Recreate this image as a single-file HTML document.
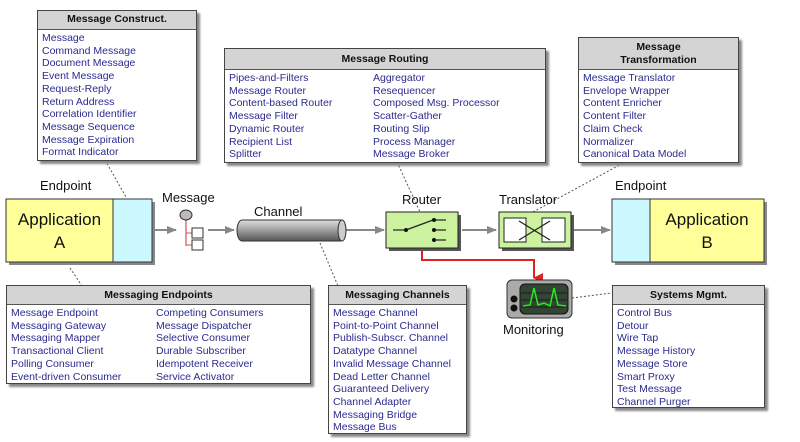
<!DOCTYPE html>
<html><head><meta charset="utf-8"><style>
body{margin:0;width:800px;height:442px;background:#fff;position:relative;overflow:hidden;font-family:"Liberation Sans",Arial,sans-serif}
.box{position:absolute;background:#fff;border:1px solid #444;box-shadow:3px 3px 2px #888}
.hd{background:#d4d4d4;border-bottom:1px solid #555;font-weight:bold;font-size:10.5px;text-align:center;color:#111;line-height:13px}
.it{color:#2b2b8f;font-size:10.5px;line-height:12.7px;padding:2px 0 0 4px;white-space:nowrap}
.col{position:absolute;top:0}
.lbl{position:absolute;font-size:13px;color:#111}
</style></head><body>
<svg width="800" height="442" style="position:absolute;left:0;top:0">
<defs>
<linearGradient id="cyl" x1="0" y1="0" x2="0" y2="1"><stop offset="0" stop-color="#ddd"/><stop offset=".4" stop-color="#aaa"/><stop offset="1" stop-color="#555"/></linearGradient>
<marker id="ag" markerWidth="10" markerHeight="8" refX="9" refY="4" orient="auto" markerUnits="userSpaceOnUse"><path d="M0,0L10,4L0,8z" fill="#888"/></marker>
<marker id="ar" markerWidth="10" markerHeight="10" refX="5" refY="9" orient="auto" markerUnits="userSpaceOnUse"><path d="M0,0L10,0L5,10z" fill="#d22"/></marker>
</defs>
<g stroke="#555" stroke-dasharray="2,2" fill="none" stroke-width="1">
<line x1="105" y1="160" x2="126" y2="197"/>
<line x1="70" y1="268" x2="82" y2="286"/>
<line x1="320" y1="243" x2="338" y2="286"/>
<line x1="397" y1="162" x2="420" y2="212"/>
<line x1="533" y1="212" x2="625" y2="162"/>
<line x1="572" y1="298" x2="612" y2="293"/>
</g>
<g stroke="#888" stroke-width="2" fill="none">
<line x1="155" y1="230" x2="176" y2="230" marker-end="url(#ag)"/>
<line x1="208" y1="230" x2="234" y2="230" marker-end="url(#ag)"/>
<line x1="345" y1="230" x2="384" y2="230" marker-end="url(#ag)"/>
<line x1="462" y1="230" x2="496" y2="230" marker-end="url(#ag)"/>
<line x1="574" y1="230" x2="610" y2="230" marker-end="url(#ag)"/>
</g>
<path d="M422,249V260H534V278" stroke="#d22" stroke-width="2" fill="none" marker-end="url(#ar)"/>
<!-- App A -->
<rect x="9" y="202" width="146" height="63" fill="#888"/>
<rect x="6" y="199" width="146" height="63" fill="#ffff99" stroke="#333"/>
<rect x="113" y="199" width="39" height="63" fill="#ccf8ff" stroke="#333"/>
<!-- App B -->
<rect x="615" y="202" width="152" height="63" fill="#888"/>
<rect x="612" y="199" width="152" height="63" fill="#ffff99" stroke="#333"/>
<rect x="612" y="199" width="38" height="63" fill="#ccf8ff" stroke="#333"/>
<!-- message -->
<line x1="186" y1="220" x2="186" y2="246" stroke="#c55" stroke-width="1.2"/>
<line x1="186" y1="233" x2="192" y2="233" stroke="#c55"/>
<line x1="186" y1="245" x2="192" y2="245" stroke="#c55"/>
<ellipse cx="186" cy="215" rx="6" ry="5" fill="#bbb" stroke="#333"/>
<rect x="192" y="228" width="11" height="10" fill="#fff" stroke="#333"/>
<rect x="192" y="240" width="11" height="10" fill="#fff" stroke="#333"/>
<!-- channel -->
<path d="M242,220H342V241H242A5,10.5 0 0 1 242,220z" fill="url(#cyl)" stroke="#333"/>
<ellipse cx="342" cy="230.5" rx="4" ry="10.5" fill="#ccc" stroke="#333"/>
<!-- router -->
<rect x="389" y="215" width="72" height="36" fill="#555"/>
<rect x="386" y="212" width="72" height="36" fill="#ccf2a0" stroke="#222"/>
<g stroke="#222" stroke-width="1.2"><line x1="393" y1="230" x2="406" y2="230"/><line x1="406" y1="230" x2="433" y2="220"/><line x1="433" y1="220" x2="446" y2="220"/><line x1="433" y1="230" x2="446" y2="230"/><line x1="433" y1="240" x2="446" y2="240"/></g>
<g fill="#111"><circle cx="406" cy="230" r="2"/><circle cx="434" cy="220" r="2"/><circle cx="434" cy="230" r="2"/><circle cx="434" cy="240" r="2"/></g>
<!-- translator -->
<rect x="502" y="215" width="72" height="36" fill="#555"/>
<rect x="499" y="212" width="72" height="36" fill="#ccf2a0" stroke="#222"/>
<rect x="504" y="218" width="22" height="24" fill="#fff" stroke="#222"/>
<rect x="542" y="218" width="23" height="24" fill="#fff" stroke="#222"/>
<line x1="519" y1="221" x2="550" y2="240" stroke="#222" stroke-width="1.3"/>
<line x1="519" y1="240" x2="550" y2="221" stroke="#222" stroke-width="1.3"/>
<!-- monitor -->
<rect x="507" y="280" width="65" height="38" rx="5" fill="#aaa" stroke="#333"/>
<rect x="520" y="284" width="48" height="30" rx="5" fill="#334433" stroke="#111"/>
<g stroke="#111" stroke-width=".8"><line x1="521" y1="293" x2="567" y2="293"/><line x1="521" y1="300" x2="567" y2="300"/><line x1="521" y1="307" x2="567" y2="307"/></g>
<path d="M523,306L530,305L534,288L538,305L544,303L550,306L554,288L558,305L566,306" stroke="#2e2" stroke-width="1.5" fill="none"/>
<circle cx="514" cy="299" r="3.5" fill="#111"/><circle cx="514" cy="308" r="3.5" fill="#111"/>
</svg>
<div class="lbl" style="left:40px;top:178px">Endpoint</div>
<div class="lbl" style="left:162px;top:190px">Message</div>
<div class="lbl" style="left:254px;top:204px">Channel</div>
<div class="lbl" style="left:402px;top:192px">Router</div>
<div class="lbl" style="left:499px;top:192px">Translator</div>
<div class="lbl" style="left:615px;top:178px">Endpoint</div>
<div class="lbl" style="left:503px;top:322px">Monitoring</div>
<div class="lbl" style="left:6px;top:208px;width:107px;text-align:center;font-size:17px;line-height:23px">Application<br>A</div>
<div class="lbl" style="left:650px;top:208px;width:114px;text-align:center;font-size:17px;line-height:23px">Application<br>B</div>

<div class="box" style="left:37px;top:10px;width:158px;height:149px"><div class="hd" style="padding:2px 0 3px">Message Construct.</div>
<div class="it">Message<br>Command Message<br>Document Message<br>Event Message<br>Request-Reply<br>Return Address<br>Correlation Identifier<br>Message Sequence<br>Message Expiration<br>Format Indicator</div></div>

<div class="box" style="left:224px;top:48px;width:320px;height:113px"><div class="hd" style="padding:4px 0 3px">Message Routing</div>
<div style="position:relative"><div class="it col" style="left:0">Pipes-and-Filters<br>Message Router<br>Content-based Router<br>Message Filter<br>Dynamic Router<br>Recipient List<br>Splitter</div>
<div class="it col" style="left:144px">Aggregator<br>Resequencer<br>Composed Msg. Processor<br>Scatter-Gather<br>Routing Slip<br>Process Manager<br>Message Broker</div></div></div>

<div class="box" style="left:578px;top:37px;width:159px;height:124px"><div class="hd" style="padding:3px 0 2px">Message<br>Transformation</div>
<div class="it">Message Translator<br>Envelope Wrapper<br>Content Enricher<br>Content Filter<br>Claim Check<br>Normalizer<br>Canonical Data Model</div></div>

<div class="box" style="left:6px;top:285px;width:303px;height:97px"><div class="hd" style="padding:3px 0 2px">Messaging Endpoints</div>
<div style="position:relative"><div class="it col" style="left:0">Message Endpoint<br>Messaging Gateway<br>Messaging Mapper<br>Transactional Client<br>Polling Consumer<br>Event-driven Consumer</div>
<div class="it col" style="left:145px">Competing Consumers<br>Message Dispatcher<br>Selective Consumer<br>Durable Subscriber<br>Idempotent Receiver<br>Service Activator</div></div></div>

<div class="box" style="left:328px;top:285px;width:137px;height:147px"><div class="hd" style="padding:3px 0 2px">Messaging Channels</div>
<div class="it">Message Channel<br>Point-to-Point Channel<br>Publish-Subscr. Channel<br>Datatype Channel<br>Invalid Message Channel<br>Dead Letter Channel<br>Guaranteed Delivery<br>Channel Adapter<br>Messaging Bridge<br>Message Bus</div></div>

<div class="box" style="left:612px;top:285px;width:151px;height:121px"><div class="hd" style="padding:3px 0 2px">Systems Mgmt.</div>
<div class="it">Control Bus<br>Detour<br>Wire Tap<br>Message History<br>Message Store<br>Smart Proxy<br>Test Message<br>Channel Purger</div></div>
</body></html>
